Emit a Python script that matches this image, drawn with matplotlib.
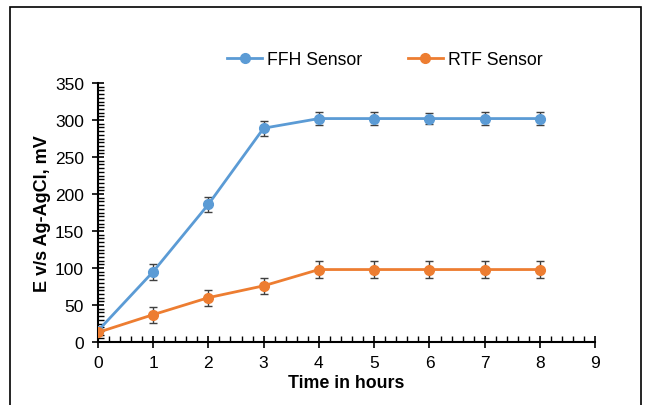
import numpy as np
import matplotlib.pyplot as plt
from matplotlib.ticker import MultipleLocator
from matplotlib.patches import Rectangle

plt.rcParams['font.family'] = ['Liberation Sans', 'DejaVu Sans']

hours = [0, 1, 2, 3, 4, 5, 6, 7, 8]
ffh = [15, 95, 186, 289, 302, 302, 302, 302, 302]
ffh_err = [3, 11, 10, 10, 9, 9, 8, 9, 9]
rtf = [13, 37, 60, 76, 98, 98, 98, 98, 98]
rtf_err = [3, 11, 11, 11, 11, 11, 11, 11, 11]

fig = plt.figure(figsize=(6.52, 4.06), dpi=100)
ax = fig.add_axes([0.150, 0.155, 0.763, 0.638])

blue = '#5B9BD5'
orange = '#ED7D31'
ax.errorbar(hours, ffh, yerr=ffh_err, color=blue, marker='o', markersize=7,
            linewidth=2, ecolor='#404040', elinewidth=1, capsize=3, capthick=1,
            label='FFH Sensor', zorder=3)
ax.errorbar(hours, rtf, yerr=rtf_err, color=orange, marker='o', markersize=7,
            linewidth=2, ecolor='#404040', elinewidth=1, capsize=3, capthick=1,
            label='RTF Sensor', zorder=3)

ax.set_xlim(0, 9)
ax.set_ylim(0, 350)
ax.xaxis.set_major_locator(MultipleLocator(1))
ax.xaxis.set_minor_locator(MultipleLocator(0.2))
ax.yaxis.set_major_locator(MultipleLocator(50))
ax.yaxis.set_minor_locator(MultipleLocator(5))
ax.tick_params(which='major', direction='inout', length=8, width=1.2, labelsize=12.5, color='black')
ax.tick_params(axis='y', which='major', pad=6)
ax.tick_params(axis='x', which='major', pad=5)
ax.tick_params(which='minor', direction='in', length=4, width=1, color='black')
ax.spines['top'].set_visible(False)
ax.spines['right'].set_visible(False)
ax.spines['left'].set_linewidth(1.5)
ax.spines['bottom'].set_linewidth(1.5)

ax.set_xlabel('Time in hours', fontsize=12.8, fontweight='bold', labelpad=3)
ax.set_ylabel('E v/s Ag-AgCl, mV', fontsize=13, fontweight='bold', labelpad=3)

handles, labels = ax.get_legend_handles_labels()
handles = [h[0] for h in handles]
fig.legend(handles, labels, loc='center', bbox_to_anchor=(0.59, 0.85), ncol=2,
           frameon=False, fontsize=12.7, columnspacing=2.6, handlelength=2.0,
           handletextpad=0.25)

fig.patches.append(Rectangle((10 / 652, -0.05), 631 / 652, 1.05 - 8 / 406,
                             transform=fig.transFigure, fill=False,
                             edgecolor='black', linewidth=1.2))

fig.savefig('out.png', dpi=100)
